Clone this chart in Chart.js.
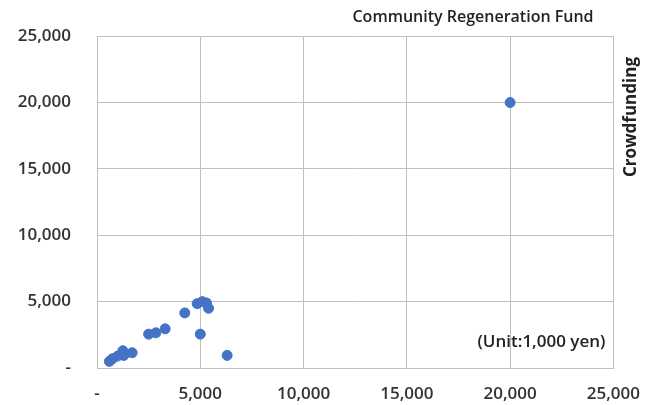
<!DOCTYPE html>
<html lang="en">
<head>
  <meta charset="UTF-8">
  <title>Community Regeneration Fund vs Crowdfunding</title>
  <style>
    html, body { margin: 0; padding: 0; background: #fff; }
    #wrap { width: 656px; height: 405px; }
  </style>
</head>
<body>
  <div id="wrap"><canvas id="chart" width="656" height="405"></canvas></div>

  <script src="https://cdn.jsdelivr.net/npm/chart.js"></script>
  <script>
    // values in 1,000 yen
    const fundValues = [600, 750, 1000, 1250, 1300, 1700, 2500, 2850, 3300, 4250, 4850, 5100, 5300, 5400, 5000, 6300, 20000];
    const crowdValues = [500, 700, 900, 1300, 950, 1150, 2550, 2650, 2950, 4150, 4850, 5000, 4900, 4500, 2550, 950, 20000];
    const axisMax = 25000;
    const axisStep = 5000;

    const titleText = "Community Regeneration Fund";
    const sideTitle = "Crowdfunding";
    const unitText = "(Unit:1,000 yen)";

    const points = fundValues.map((x, i) => ({ x: x, y: crowdValues[i] }));
    const fmt = v => v === 0 ? "-" : v.toLocaleString("en-US");
    const fam = "'Open Sans', 'Noto Sans', sans-serif";
    const tickFont = { family: fam, size: 17, weight: "600" };
    const gridCol = "#bfbfbf";

    const labelsPlugin = {
      id: "labels",
      afterDraw(chart) {
        const ctx = chart.ctx;
        const area = chart.chartArea;
        ctx.save();
        ctx.fillStyle = "#222";
        ctx.textBaseline = "middle";
        ctx.font = "600 16px " + fam;
        ctx.textAlign = "center";
        ctx.fillText(titleText, 473, 17);

        ctx.font = "600 17px " + fam;
        ctx.textAlign = "right";
        ctx.fillText(unitText, area.right - 8, 342);

        ctx.font = "bold 17px " + fam;
        ctx.translate(631, 117);
        ctx.rotate(-Math.PI / 2);
        ctx.textAlign = "center";
        ctx.fillText(sideTitle, 0, 0);
        ctx.restore();
      }
    };

    new Chart(document.getElementById("chart"), {
      type: "scatter",
      data: {
        datasets: [{
          data: points,
          backgroundColor: "#4472c4",
          borderColor: "#4472c4",
          pointRadius: 5,
          pointHoverRadius: 5
        }]
      },
      options: {
        responsive: false,
        animation: false,
        layout: { padding: { left: 0, top: 35, right: 41, bottom: 0 } },
        plugins: { legend: { display: false }, tooltip: { enabled: false } },
        scales: {
          x: {
            type: "linear",
            min: 0, max: axisMax,
            afterFit(s) { s.height = 37; },
            ticks: { stepSize: axisStep, callback: fmt, font: tickFont, color: "#333", padding: 16, maxRotation: 0 },
            grid: { color: gridCol, drawTicks: false },
            border: { color: gridCol }
          },
          y: {
            type: "linear",
            min: 0, max: axisMax,
            afterFit(s) { s.width = 97; },
            ticks: { stepSize: axisStep, callback: fmt, font: tickFont, color: "#333", padding: 26 },
            grid: { color: gridCol, drawTicks: false },
            border: { color: gridCol }
          }
        }
      },
      plugins: [labelsPlugin]
    });
  </script>
</body>
</html>
